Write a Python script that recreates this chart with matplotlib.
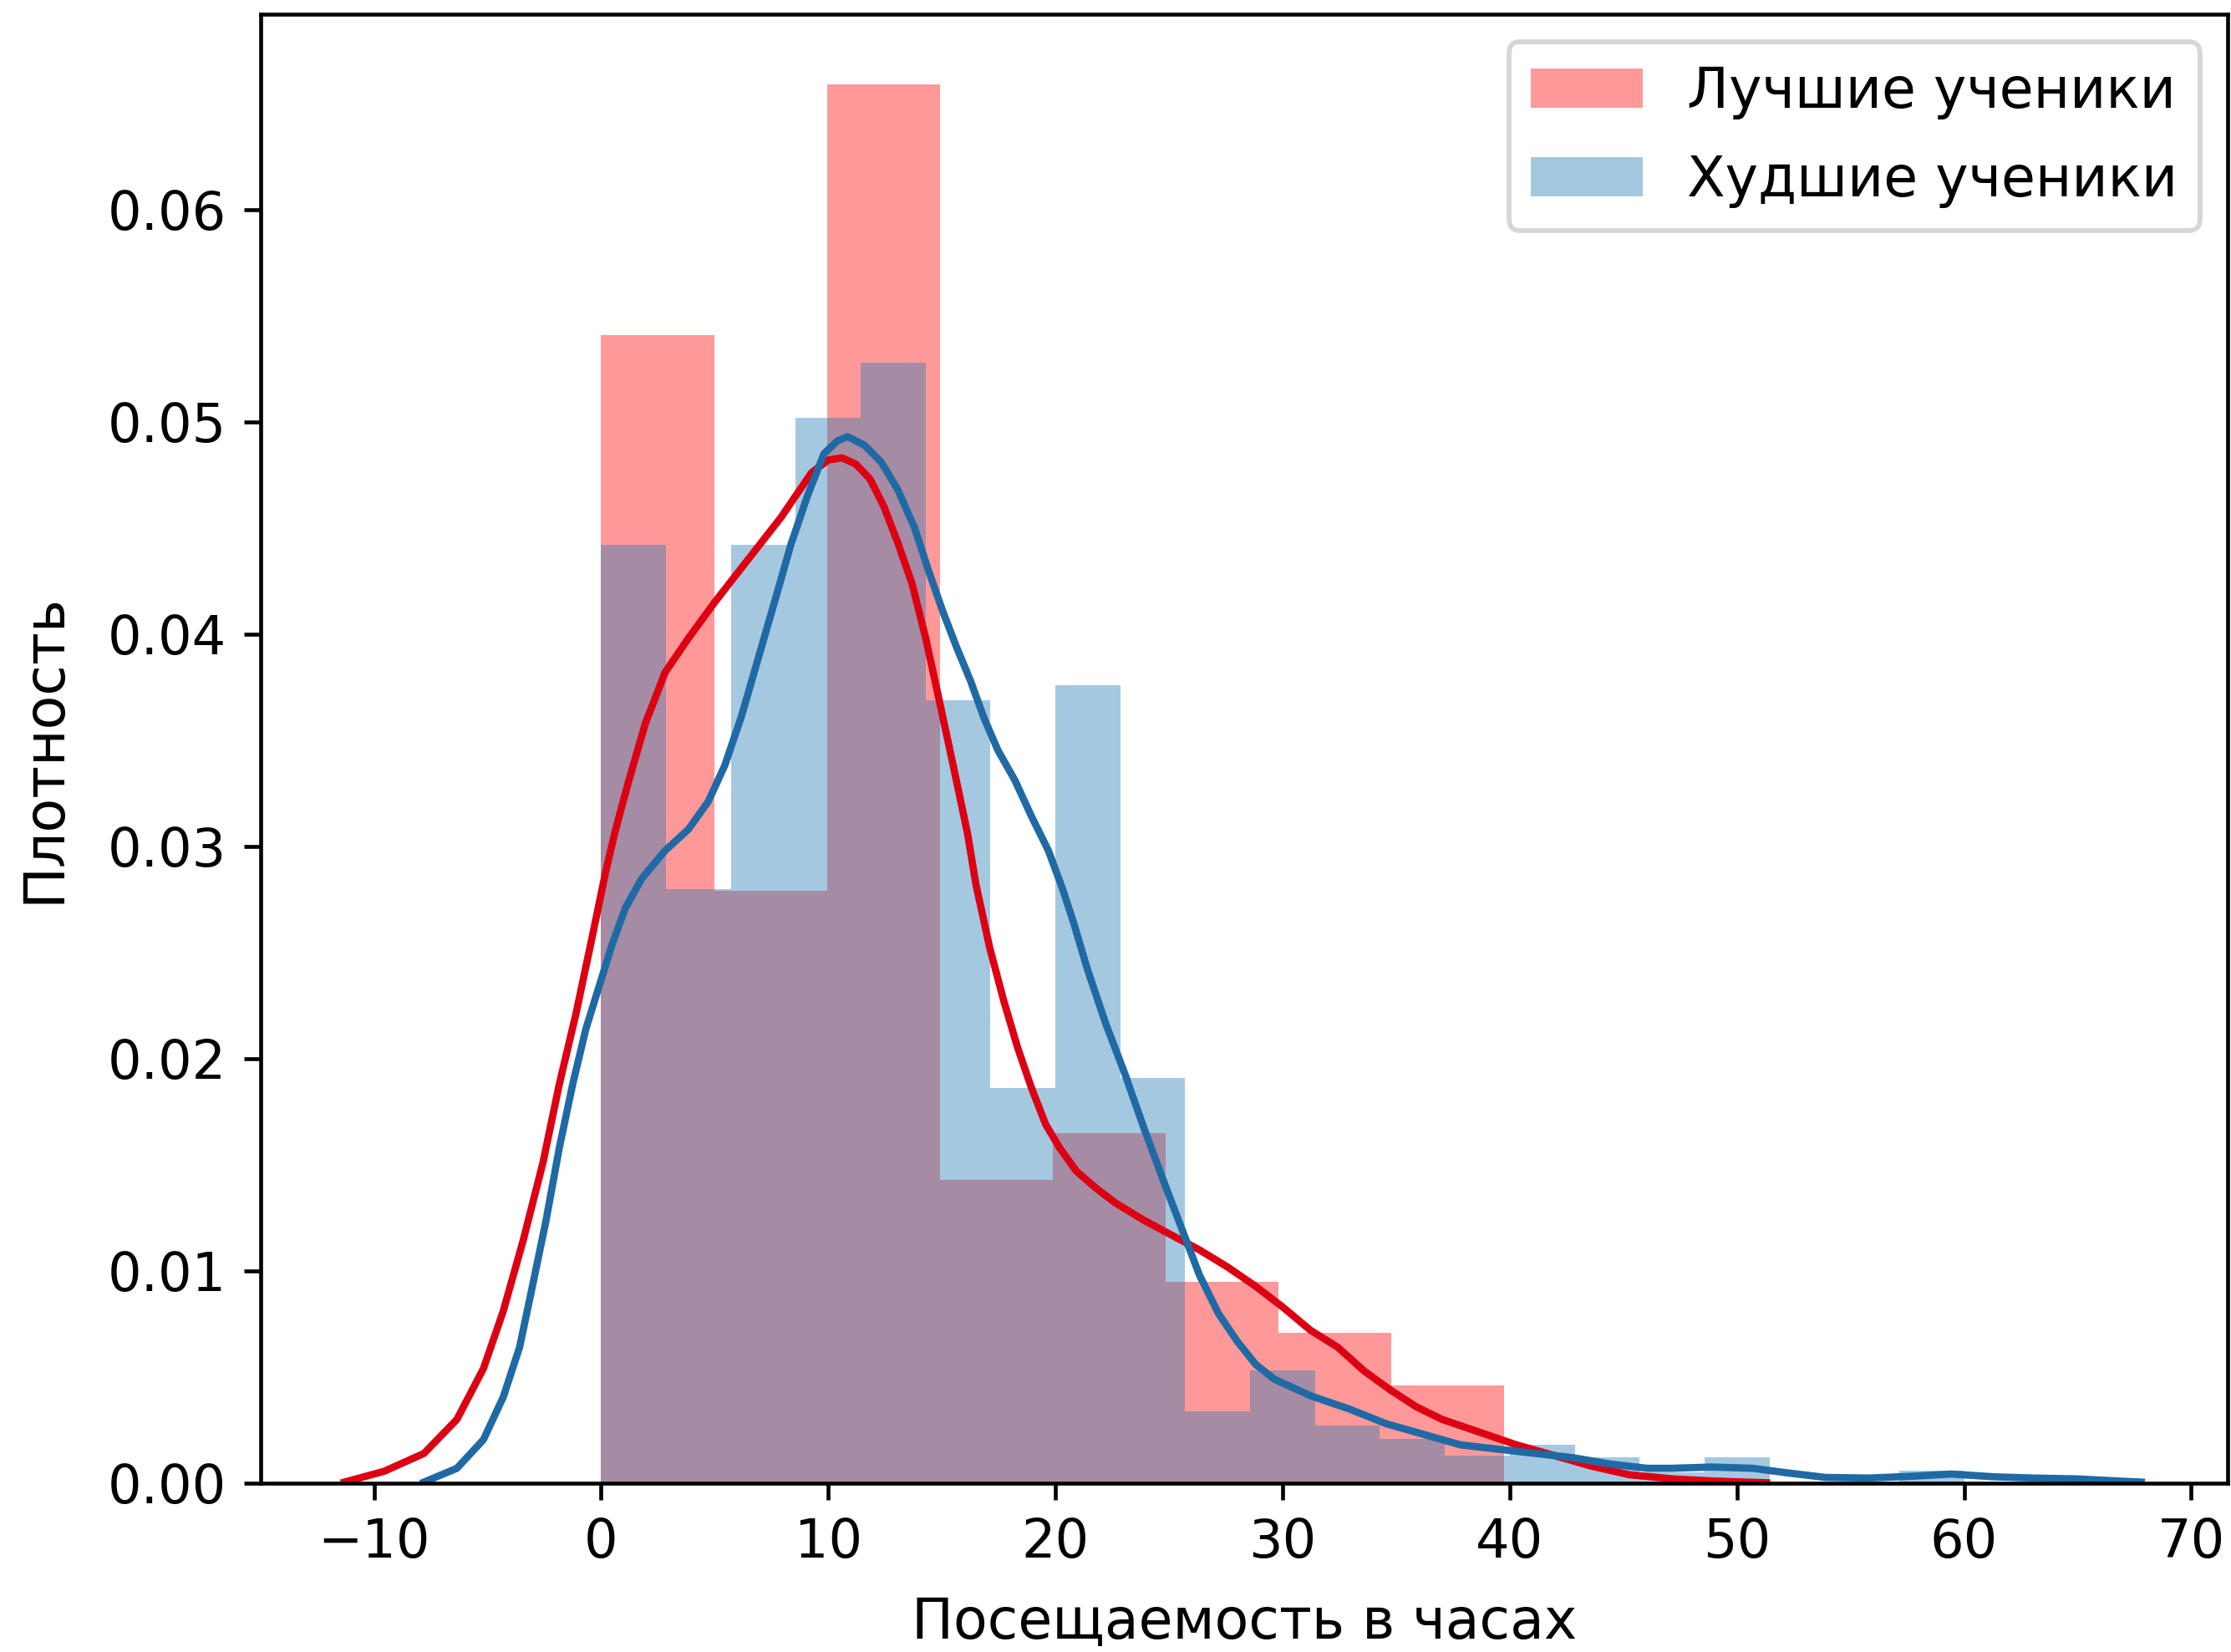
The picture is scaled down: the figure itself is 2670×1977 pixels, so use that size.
import matplotlib
matplotlib.use("Agg")
import matplotlib.pyplot as plt

plt.rcParams['font.family'] = ['DejaVu Sans']

# ---------------- data ----------------
labels = ["Лучшие ученики", "Худшие ученики"]

# histogram of the best students (density), bins start at 0
best_bin_start = 0.0
best_bin_width = 4.97
best_heights = [0.0541, 0.0279, 0.0659, 0.0143, 0.0165, 0.0095, 0.0071, 0.0046]

# histogram of the worst students (density), bins start at 0
worst_bin_start = 0.0
worst_bin_width = 2.857
worst_heights = [0.0442, 0.0280, 0.0442, 0.0502, 0.0528, 0.0369, 0.0186,
                 0.0376, 0.0191, 0.0034, 0.0053, 0.0027, 0.0021, 0.0013,
                 0.0018, 0.0012, 0.0005, 0.0012, 0.0, 0.0, 0.0006]

# KDE curve of the best students
best_kde_x = [-11.3, -9.55, -7.8, -6.35, -5.18, -4.31, -3.44, -2.56, -1.84,
              -1.11, -0.38, 0.2, 0.64, 1.22, 1.95, 2.82, 3.84, 5.0, 6.46,
              7.92, 9.26, 10.0, 10.61, 11.22, 11.84, 12.45, 13.06, 13.68,
              14.29, 14.9, 15.52, 16.13, 16.5, 17.11, 17.73, 18.34, 18.95,
              19.57, 20.18, 20.92, 21.78, 22.64, 23.87, 25.09, 26.32, 27.55,
              28.78, 30.0, 31.23, 32.43, 33.57, 34.73, 35.88, 37.03, 38.67,
              40.31, 41.96, 43.6, 45.25, 47.18, 49.0, 51.3]
best_kde_y = [0.00005, 0.00056, 0.0014, 0.0030, 0.0054, 0.0081, 0.0114,
              0.0151, 0.0188, 0.0221, 0.0258, 0.0288, 0.0308, 0.0331, 0.0358,
              0.0382, 0.0398, 0.0415, 0.0435, 0.0455, 0.0476, 0.0482, 0.0483,
              0.0480, 0.0473, 0.0460, 0.0443, 0.0424, 0.0398, 0.0368, 0.0337,
              0.0306, 0.0282, 0.0252, 0.0227, 0.0205, 0.0186, 0.0169, 0.0158,
              0.0147, 0.0139, 0.0132, 0.0124, 0.0117, 0.0110, 0.0102, 0.0093,
              0.0083, 0.0072, 0.0064, 0.0053, 0.0044, 0.0036, 0.0030, 0.0024,
              0.0018, 0.0013, 0.0008, 0.0004, 0.0002, 0.0001, 0.00002]

# KDE curve of the worst students
worst_kde_x = [-7.8, -6.35, -5.18, -4.31, -3.59, -3.0, -2.42, -1.84, -1.25,
               -0.67, -0.09, 0.49, 1.07, 1.8, 2.82, 3.84, 4.71, 5.44, 6.17,
               6.9, 7.63, 8.35, 9.08, 9.81, 10.4, 10.85, 11.59, 12.33, 13.06,
               13.8, 14.41, 15.03, 15.64, 16.26, 16.87, 17.48, 18.22, 18.95,
               19.69, 20.31, 20.8, 21.41, 22.23, 23.05, 23.87, 24.7, 25.52,
               26.34, 27.17, 27.99, 28.81, 29.63, 31.27, 32.92, 34.56, 36.2,
               37.85, 39.49, 41.13, 42.78, 44.43, 46.06, 47.1, 48.9, 50.7,
               52.1, 53.9, 55.8, 57.6, 59.45, 61.3, 63.1, 65.0, 66.8, 67.8]
worst_kde_y = [0.00005, 0.0007, 0.00205, 0.00405, 0.0064, 0.0094, 0.0124,
               0.0158, 0.0188, 0.0214, 0.0234, 0.0254, 0.0271, 0.0285, 0.0298,
               0.0308, 0.0321, 0.0338, 0.0361, 0.0388, 0.0415, 0.0442, 0.0465,
               0.0485, 0.0491, 0.0493, 0.0489, 0.0481, 0.0468, 0.0450, 0.0430,
               0.0411, 0.0394, 0.0378, 0.0360, 0.0345, 0.0331, 0.0314, 0.0298,
               0.0280, 0.0264, 0.0242, 0.0216, 0.0193, 0.0168, 0.0144, 0.0121,
               0.0098, 0.0080, 0.0067, 0.0056, 0.0049, 0.0041, 0.0035, 0.0028,
               0.0023, 0.0018, 0.0016, 0.0014, 0.0012, 0.0009, 0.0007, 0.0007,
               0.00076, 0.0007, 0.0005, 0.00027, 0.00024, 0.00032, 0.00043,
               0.0003, 0.00024, 0.0002, 0.0001, 0.00005]

x_ticks = [-10, 0, 10, 20, 30, 40, 50, 60, 70]
y_ticks = [0.00, 0.01, 0.02, 0.03, 0.04, 0.05, 0.06]
x_label = "Посещаемость в часах"
y_label = "Плотность"

# ---------------- drawing ----------------
FS_TICK = 11.0
FS_LAB = 11.5
fig = plt.figure(figsize=(2670 / 417, 1977 / 417), dpi=417)
ax = fig.add_axes([0.1167, 0.1022, 0.9985 - 0.1167, 0.9914 - 0.1022])

best_left = [best_bin_start + i * best_bin_width for i in range(len(best_heights))]
worst_left = [worst_bin_start + i * worst_bin_width for i in range(len(worst_heights))]

ax.bar(best_left, best_heights, width=best_bin_width, align='edge',
       color='red', alpha=0.4, linewidth=0, label=labels[0])
ax.plot(best_kde_x, best_kde_y, color='#dc0012', lw=1.5,
        solid_joinstyle='round')
ax.bar(worst_left, worst_heights, width=worst_bin_width, align='edge',
       color='#1f77b4', alpha=0.4, linewidth=0, label=labels[1])
ax.plot(worst_kde_x, worst_kde_y, color='#1f6aa5', lw=1.5,
        solid_joinstyle='round')

ax.set_xlim(-15.0, 71.6)
ax.set_ylim(0, 0.0692)
ax.set_xticks(x_ticks)
ax.set_yticks(y_ticks)
ax.set_yticklabels([f"{v:.2f}" for v in y_ticks])
ax.tick_params(labelsize=FS_TICK)
ax.set_xlabel(x_label, fontsize=FS_LAB, labelpad=5.5)
ax.set_ylabel(y_label, fontsize=FS_LAB, labelpad=7.5)
ax.legend(loc='upper right', fontsize=FS_LAB, labelspacing=0.6)

fig.savefig("out.png", dpi=417)
